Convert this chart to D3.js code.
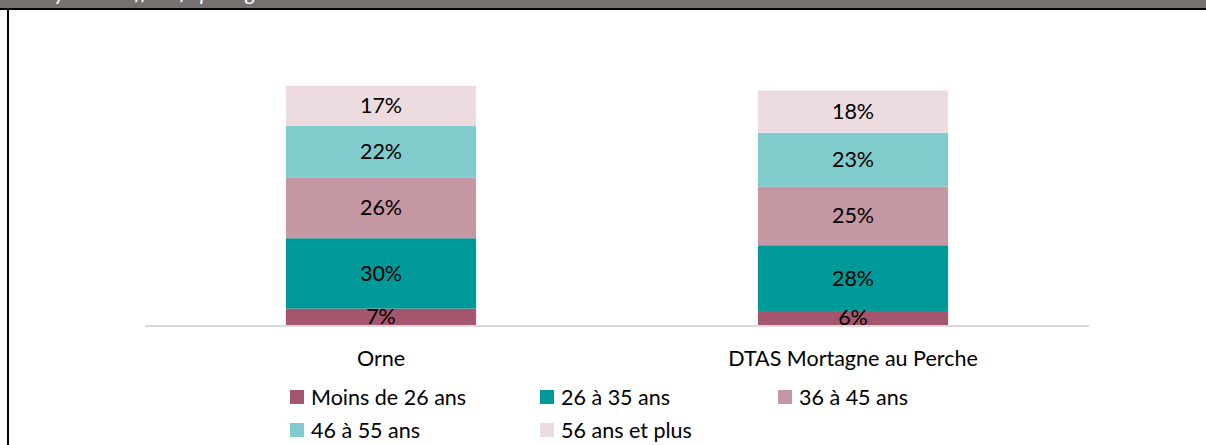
<!DOCTYPE html>
<html>
<head>
    <meta charset="utf-8">
    <style>
        body { margin: 0; background: #fff; }
        text { font-family: Lato, "Open Sans", sans-serif; }
    </style>
    <script src="https://cdn.jsdelivr.net/npm/d3@7/dist/d3.min.js"></script>
</head>
<body>
    <div id="chart"></div>
    <script>
        // Data
        const categories = ["Orne", "DTAS Mortagne au Perche"];
        const seriesNames = ["Moins de 26 ans", "26 à 35 ans", "36 à 45 ans", "46 à 55 ans", "56 ans et plus"];
        const moins26 = [7, 6];
        const de26a35 = [30, 28];
        const de36a45 = [26, 25];
        const de46a55 = [22, 23];
        const plus56 = [17, 18];
        const colors = ["#a4566e", "#009999", "#c497a3", "#80cbcb", "#ecdce0"];

        const width = 1206, height = 445;
        const plot = { left: 145, right: 1089, top: 90.5, bottom: 325 };
        const fs = 21.5;

        // table for d3.stack
        const allSeries = [moins26, de26a35, de36a45, de46a55, plus56];
        const table = categories.map((c, i) => {
            const row = { cat: c };
            seriesNames.forEach((s, j) => row[s] = allSeries[j][i]);
            return row;
        });
        const stacked = d3.stack().keys(seriesNames)(table);

        const svg = d3.select("#chart").append("svg")
            .attr("width", width)
            .attr("height", height);

        // header bar + frame (title is cut off at the top, only descenders show)
        svg.append("rect").attr("x", 0).attr("y", 0).attr("width", width).attr("height", 8).attr("fill", "#767171");
        svg.append("text")
            .attr("x", 14).attr("y", -0.5)
            .attr("fill", "#fff")
            .attr("font-size", fs)
            .attr("font-style", "italic")
            .text("Analyse des effectifs par âge");
        svg.append("line").attr("x1", 0).attr("x2", width).attr("y1", 9).attr("y2", 9)
            .attr("stroke", "#000").attr("stroke-width", 2);
        svg.append("line").attr("x1", 8).attr("x2", 8).attr("y1", 8).attr("y2", height)
            .attr("stroke", "#000").attr("stroke-width", 2);

        // scales
        const x = d3.scaleBand()
            .domain(categories)
            .range([plot.left, plot.right])
            .paddingInner(0.597)
            .paddingOuter(0.2985);

        const y = d3.scaleLinear()
            .domain([0, 100])
            .range([plot.bottom, plot.top]);

        const color = d3.scaleOrdinal().domain(seriesNames).range(colors);

        // bars
        const layers = svg.append("g").selectAll("g")
            .data(stacked)
            .enter().append("g")
            .attr("fill", d => color(d.key));

        layers.selectAll("rect")
            .data(d => d)
            .enter().append("rect")
            .attr("x", d => x(d.data.cat))
            .attr("y", d => y(d[1]))
            .attr("width", x.bandwidth())
            .attr("height", d => y(d[0]) - y(d[1]));

        // baseline
        svg.append("line")
            .attr("x1", plot.left).attr("x2", plot.right)
            .attr("y1", plot.bottom + 1).attr("y2", plot.bottom + 1)
            .attr("stroke", "#d9d9d9").attr("stroke-width", 2);

        // data labels
        stacked.forEach(layer => {
            svg.append("g").selectAll("text")
                .data(layer)
                .enter().append("text")
                .attr("x", d => x(d.data.cat) + x.bandwidth() / 2)
                .attr("y", d => (y(d[0]) + y(d[1])) / 2)
                .attr("dy", "0.35em")
                .attr("text-anchor", "middle")
                .attr("font-size", fs)
                .attr("fill", "#000")
                .text(d => (d[1] - d[0]) + "%");
        });

        // category axis
        const xAxis = svg.append("g")
            .attr("transform", `translate(0,${plot.bottom + 1})`)
            .call(d3.axisBottom(x).tickSize(0));
        xAxis.select(".domain").remove();
        xAxis.selectAll("text")
            .attr("y", 32)
            .attr("dy", "0.35em")
            .attr("font-size", fs)
            .attr("fill", "#000")
            .style("font-family", "Lato, 'Open Sans', sans-serif");

        // legend
        const legendX = [290, 540, 778];
        const legendY = [397, 430];
        const legend = svg.append("g").selectAll("g")
            .data(seriesNames)
            .enter().append("g")
            .attr("transform", (d, i) => `translate(${legendX[i % 3]},${legendY[Math.floor(i / 3)]})`);
        legend.append("rect")
            .attr("x", 0).attr("y", -7)
            .attr("width", 14).attr("height", 14)
            .attr("fill", d => color(d));
        legend.append("text")
            .attr("x", 21)
            .attr("dy", "0.35em")
            .attr("font-size", fs)
            .attr("fill", "#000")
            .text(d => d);
    </script>
</body>
</html>
